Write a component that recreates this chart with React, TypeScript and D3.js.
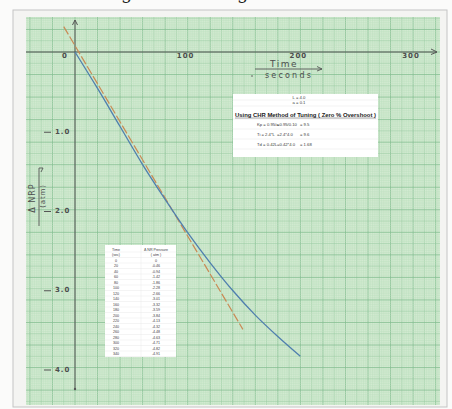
import React from "react";
import * as d3 from "d3";

// readings from the table on the sheet
const times = [0, 20, 40, 60, 80, 100, 120, 140, 160, 180, 200, 220, 240, 260, 280, 300, 320, 340];
const pressure = [0, -0.46, -0.94, -1.42, -1.86, -2.28, -2.66, -3.01, -3.32, -3.59, -3.84, -4.13, -4.32, -4.48, -4.63, -4.71, -4.82, -4.91];
const plottedUntil = 200;

// tangent drawn through the steepest part
const tangentTimes = [-10, 149];
const tangentValues = [0.32, -3.5];

const xTicks = [0, 100, 200, 300];
const xTickLabels = ["0", "100", "200", "300"];
const yTicks = [-1, -2, -3, -4];
const yTickLabels = ["1.0", "2.0", "3.0", "4.0"];

const tuningParams = ["L = 4.0", "a = 0.1"];
const tuningTitle = "Using CHR Method of Tuning ( Zero % Overshoot )";
const tuningRows = [
  ["Kp = 0.95/a", "=0.95/0.10", "= 9.5"],
  ["Ti = 2.4*L", "=2.4*4.0", "= 9.6"],
  ["Td = 0.42L", "=0.42*4.0", "= 1.68"],
];
const tableHeader = [
  ["Time", "\u0394 NR Pressure"],
  ["(sec)", "( atm )"],
];

const App = () => {
  const W = 452;
  const H = 409;
  const paper = { x0: 26, x1: 440, y0: 17, y1: 405 };

  const x = d3.scaleLinear().domain([0, 300]).range([75, 413]);
  const y = d3.scaleLinear().domain([0, -4]).range([52, 369]);

  // graph paper, 1 mm squares
  const mm = 2.254;
  const gx = d3.scaleLinear().domain([0, 1]).range([x(0), x(0) + mm]);
  const gy = d3.scaleLinear().domain([0, 1]).range([y(0), y(0) + mm]);
  const vLines = d3.range(Math.ceil(gx.invert(paper.x0)), Math.floor(gx.invert(paper.x1)) + 1);
  const hLines = d3.range(Math.ceil(gy.invert(paper.y0)), Math.floor(gy.invert(paper.y1)) + 1);
  const gridStyle = (k: number) =>
    k % 10 === 0
      ? { stroke: "#85bf92", width: 0.8 }
      : k % 5 === 0
      ? { stroke: "#9ccda5", width: 0.6 }
      : { stroke: "#bcdfbf", width: 0.45 };

  const curvePts = times
    .map((t, i) => [t, pressure[i]] as [number, number])
    .filter((d) => d[0] <= plottedUntil);
  const curve = d3
    .line<[number, number]>()
    .x((d) => x(d[0]))
    .y((d) => y(d[1]))
    .curve(d3.curveCatmullRom)(curvePts);

  const tangent = d3
    .line<number>()
    .x((d) => x(d))
    .y((d, i) => y(tangentValues[i]))(tangentTimes);

  const hand = { fontFamily: "DejaVu Sans", fontWeight: 700, fill: "#4d4d4d" } as const;
  const typed = { fontFamily: "Liberation Sans", fill: "#3a3a3a" } as const;

  // data table box
  const tb = { x: 105, y: 245, w: 71, h: 112, split: 141 };
  const rowH = 5.5;
  const tableRows = [
    ...tableHeader,
    ...times.map((t, i) => [String(t), pressure[i] === 0 ? "0" : pressure[i].toFixed(2)]),
  ];

  // tuning box
  const bx = { x: 233, y: 94, w: 145, h: 63 };

  return (
    <svg width={W} height={H} style={{ position: "absolute", left: 0, top: 0 }}>
      <rect width={W} height={H} fill="#fbfbfa" />
      <text x={121} y={-1} fontFamily="DejaVu Serif" fontSize={18} fill="#222">g</text>
      <text x={237} y={-1} fontFamily="DejaVu Serif" fontSize={18} fill="#222">g</text>
      <rect x={13} y={10} width={434} height={397} fill="#f4f4f2" stroke="#c4c4c4" strokeWidth={1} />
      <rect x={paper.x0} y={paper.y0} width={paper.x1 - paper.x0} height={paper.y1 - paper.y0} fill="#d2ead1" />
      <g>
        {vLines.map((k) => {
          const s = gridStyle(k);
          return <line key={"v" + k} x1={gx(k)} x2={gx(k)} y1={paper.y0} y2={paper.y1} stroke={s.stroke} strokeWidth={s.width} />;
        })}
        {hLines.map((k) => {
          const s = gridStyle(k);
          return <line key={"h" + k} x1={paper.x0} x2={paper.x1} y1={gy(k)} y2={gy(k)} stroke={s.stroke} strokeWidth={s.width} />;
        })}
      </g>

      {/* axes */}
      <g stroke="#555" strokeWidth={1} fill="none">
        <line x1={paper.x0} x2={437} y1={y(0)} y2={y(0)} />
        <path d={`M431,${y(0) - 3} L437,${y(0)} L431,${y(0) + 2.5}`} />
        <line x1={x(0)} x2={x(0)} y1={20} y2={389} />
        <path d={`M${x(0) - 2.5},25 L${x(0)},20 L${x(0) + 2.5},25`} />
      </g>
      <circle cx={x(0)} cy={389} r={1.2} fill="#555" />

      {xTicks.map((v, i) => (
        <text key={v} x={v === 0 ? x(v) - 10 : x(v) - 2} y={58} fontSize={7} textAnchor="middle" letterSpacing={1} {...hand}>
          {xTickLabels[i]}
        </text>
      ))}
      {yTicks.map((v, i) => (
        <g key={v}>
          <line x1={44} x2={51} y1={y(v) + 1} y2={y(v) + 1} stroke="#555" strokeWidth={1} />
          <text x={55} y={y(v) + 2.5} fontSize={7} letterSpacing={1} {...hand}>
            {yTickLabels[i]}
          </text>
        </g>
      ))}

      {/* axis titles, hand written */}
      <text x={284} y={67} fontSize={9} textAnchor="middle" letterSpacing={1.5} {...hand} fontWeight={400}>Time</text>
      <line x1={255} x2={322} y1={69} y2={69} stroke="#555" strokeWidth={0.9} />
      <path d="M317,66.5 L322,69 L317,71" stroke="#555" strokeWidth={0.9} fill="none" />
      <text x={289} y={78} fontSize={8} textAnchor="middle" letterSpacing={2.2} {...hand} fontWeight={400}>seconds</text>
      <circle cx={252} cy={76} r={0.8} fill="#555" />

      <g transform="translate(35,198) rotate(-90)">
        <text x={0} y={0} fontSize={8} textAnchor="middle" letterSpacing={1} {...hand} fontWeight={400}>{"\u0394 NRP"}</text>
        <text x={2} y={10} fontSize={7} textAnchor="middle" letterSpacing={0.8} {...hand} fontWeight={400}>(atm)</text>
      </g>
      <line x1={39} x2={39} y1={168} y2={226} stroke="#555" strokeWidth={0.9} />
      <path d="M39,168 L43,168 L41,172" stroke="#555" strokeWidth={0.9} fill="none" />

      {/* tangent and response curve */}
      <path d={tangent ?? ""} fill="none" stroke="#c98a55" strokeWidth={1.2} strokeDasharray="9,2.5" />
      <path d={curve ?? ""} fill="none" stroke="#4f7fae" strokeWidth={1.3} />

      {/* tuning box */}
      <rect x={bx.x} y={bx.y} width={bx.w} height={bx.h} fill="#ffffff" />
      <g stroke="#e6e6e6" strokeWidth={0.5}>
        {[100, 106, 119, 129, 139, 149].map((ly) => (
          <line key={ly} x1={bx.x} x2={bx.x + bx.w} y1={ly} y2={ly} />
        ))}
      </g>
      {tuningParams.map((t, i) => (
        <text key={t} x={299} y={99 + i * 5} fontSize={4.2} textAnchor="middle" {...typed}>{t}</text>
      ))}
      <text x={235} y={117} fontSize={5.6} fontWeight={700} textLength={141} lengthAdjust="spacingAndGlyphs" {...typed} fill="#222">
        {tuningTitle}
      </text>
      <line x1={235} x2={376} y1={118} y2={118} stroke="#222" strokeWidth={0.4} />
      {tuningRows.map((r, i) => (
        <g key={i}>
          {r.map((c, j) => (
            <text key={j} x={[257, 277, 300][j]} y={126 + i * 10} fontSize={4.2} {...typed}>{c}</text>
          ))}
        </g>
      ))}

      {/* data table */}
      <rect x={tb.x} y={tb.y} width={tb.w} height={tb.h} fill="#ffffff" />
      <g stroke="#e4e4e4" strokeWidth={0.4}>
        {tableRows.map((_, i) => (
          <line key={i} x1={tb.x} x2={tb.x + tb.w} y1={tb.y + 1.5 + (i + 1) * rowH} y2={tb.y + 1.5 + (i + 1) * rowH} />
        ))}
        <line x1={tb.split} x2={tb.split} y1={tb.y} y2={tb.y + tb.h} />
      </g>
      {tableRows.map((r, i) => (
        <g key={i} fontSize={3.6} {...typed}>
          <text x={116} y={tb.y + 5.5 + i * rowH} textAnchor="middle">{r[0]}</text>
          <text x={156} y={tb.y + 5.5 + i * rowH} textAnchor="middle">{r[1]}</text>
        </g>
      ))}
    </svg>
  );
};

export default App;
